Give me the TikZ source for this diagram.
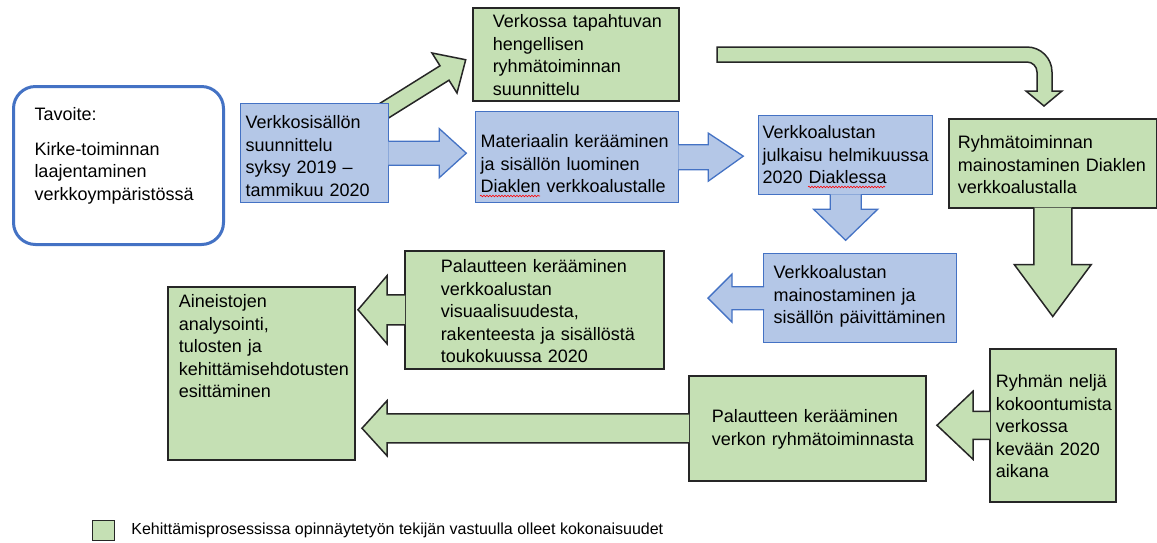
\documentclass[tikz,border=0pt]{standalone}
\usepackage{fontspec}
\setmainfont{Liberation Sans}
\usetikzlibrary{positioning}
\usetikzlibrary{decorations.pathmorphing}
\definecolor{boxgreen}{HTML}{C5E0B4}
\definecolor{boxblue}{HTML}{B4C7E7}
\definecolor{lineblue}{HTML}{4472C4}

\begin{document}
\begin{tikzpicture}[x=1pt,y=-1pt,
    txt/.style={font=\fontsize{18}{22.5}\selectfont, align=left, inner sep=0pt, anchor=north west},
    textinset/.style={execute at begin node={\leftskip=#1\relax}},
    gbox/.style={txt, draw=black!85, line width=1.5pt, fill=boxgreen},
    bbox/.style={txt, draw=lineblue, line width=1.3pt, fill=boxblue},
    garrow/.style={draw=black!85, line width=1.5pt, fill=boxgreen},
    barrow/.style={draw=lineblue, line width=1.3pt, fill=boxblue},
    wave/.style={red, line width=0.6pt, decorate, decoration={snake, amplitude=0.8pt, segment length=3pt}}]
    \useasboundingbox (0,0) rectangle (1157,542);
    \fill[white] (0,0) rectangle (1157,542);

    % vinonuoli (jaa alle)
    \begin{scope}[shift={(444.5,73)}, rotate=32]
        \filldraw[garrow] (-100,-8.5) -- (0,-8.5) -- (0,-23.6) -- (25,0) -- (0,23.6) -- (0,8.5) -- (-100,8.5) -- cycle;
    \end{scope}

    % U-nuoli
    \filldraw[garrow] (717,47) -- (1027,47) arc[start angle=-90, end angle=0, radius=25] -- (1052,91) -- (1062,91)
        -- (1044,106) -- (1026,91) -- (1037,91) -- (1037,72) arc[start angle=0, end angle=-90, radius=10] -- (717,62) -- cycle;

    % laatikot
    \node[txt, draw=lineblue, line width=3pt, rounded corners=22pt, textinset=21pt, text width=210pt, text height=34pt, text depth=124pt] (goal) at (12,85)
        {Tavoite:\\[12pt]Kirke-toiminnan\\laajentaminen\\verkkoympäristössä};
    \node[gbox, textinset=20pt, text width=206pt, text height=20pt, text depth=73pt] (plan) at (472,7)
        {Verkossa tapahtuvan\\hengellisen\\ryhmätoiminnan\\suunnittelu};
    \node[bbox, textinset=5pt, text width=148pt, text height=25pt, text depth=74pt] (suunn) at (240,103)
        {Verkkosisällön\\suunnittelu\\syksy 2019 –\\tammikuu 2020};
    \node[bbox, textinset=5pt, text width=203pt, text height=36pt, text depth=55pt] (mater) at (475,111)
        {Materiaalin kerääminen\\ja sisällön luominen\\Diaklen verkkoalustalle};
    \node[bbox, textinset=4pt, text width=174pt, text height=23pt, text depth=56pt] (julk) at (758,115)
        {Verkkoalustan\\julkaisu helmikuussa\\2020 Diaklessa};
    \node[gbox, textinset=9pt, text width=208pt, text height=30pt, text depth=59pt] (mainos) at (948,118)
        {Ryhmätoiminnan\\mainostaminen Diaklen\\verkkoalustalla};
    \node[gbox, textinset=11pt, text width=187pt, text height=21pt, text depth=152pt] (ain) at (167,286)
        {Aineistojen\\analysointi,\\tulosten ja\\kehittämisehdotusten\\esittäminen};
    \node[gbox, textinset=36pt, text width=259pt, text height=22pt, text depth=96pt] (pal1) at (404,250)
        {Palautteen kerääminen\\verkkoalustan\\visuaalisuudesta,\\rakenteesta ja sisällöstä\\toukokuussa 2020};
    \node[bbox, textinset=10pt, text width=193pt, text height=25pt, text depth=64pt] (vmain) at (763,253)
        {Verkkoalustan\\mainostaminen ja\\sisällön päivittäminen};
    \node[gbox, textinset=23pt, text width=237pt, text height=47pt, text depth=58pt] (pal2) at (688,375)
        {Palautteen kerääminen\\verkon ryhmätoiminnasta};
    \node[gbox, textinset=6pt, text width=126pt, text height=39pt, text depth=114pt] (ryh) at (989,348)
        {Ryhmän neljä\\kokoontumista\\verkossa\\kevään 2020\\aikana};

    % nuolet laatikoista
    \filldraw[barrow, shift={(suunn.east)}] (-1,-12) -- (50,-12) -- (50,-24.5) -- (77,0) -- (50,24.5) -- (50,12) -- (-1,12);
    \filldraw[barrow, shift={(mater.east)}] (-1,-12.5) -- (29,-12.5) -- (29,-24) -- (64,-1) -- (29,24) -- (29,12.5) -- (-1,12.5);
    \filldraw[barrow, shift={(julk.south)}] (-15.5,-1) -- (-15.5,14) -- (-32,14) -- (0,45) -- (32,14) -- (15.5,14) -- (15.5,-1);
    \filldraw[garrow, shift={(mainos.south)}] (-19,-1) -- (-19,56) -- (-38.5,56) -- (0,108) -- (38.5,56) -- (19,56) -- (19,-1);
    \filldraw[barrow, shift={(vmain.west)}] (1,-11.5) -- (-31,-11.5) -- (-31,-24) -- (-55,0) -- (-31,24) -- (-31,11.5) -- (1,11.5);
    \filldraw[garrow, shift={(pal1.west)}] (1,-15) -- (-17,-15) -- (-17,-34) -- (-46,0) -- (-17,34) -- (-17,15) -- (1,15);
    \filldraw[garrow, shift={(pal2.west)}] (1,-14.5) -- (-301,-14.5) -- (-301,-27.5) -- (-326,0) -- (-301,27.5) -- (-301,14.5) -- (1,14.5);
    \filldraw[garrow, shift={(ryh.west)}] (1,-14) -- (-16,-14) -- (-16,-34) -- (-52,0) -- (-16,34) -- (-16,14) -- (1,14);

    % oikoluvun aaltoviivat
    \draw[wave] (480,196) -- (540,196);
    \draw[wave] (808,187) -- (885,187);

    % selite
    \node[draw=black!85, line width=1.2pt, fill=boxgreen, minimum width=22pt, minimum height=20pt, inner sep=0pt, anchor=north west] (leg) at (92,520) {};
    \node[font=\fontsize{16}{19}\selectfont, inner sep=0pt, right=16pt of leg] (legtext)
        {Kehittämisprosessissa opinnäytetyön tekijän vastuulla olleet kokonaisuudet};
\end{tikzpicture}
\end{document}
